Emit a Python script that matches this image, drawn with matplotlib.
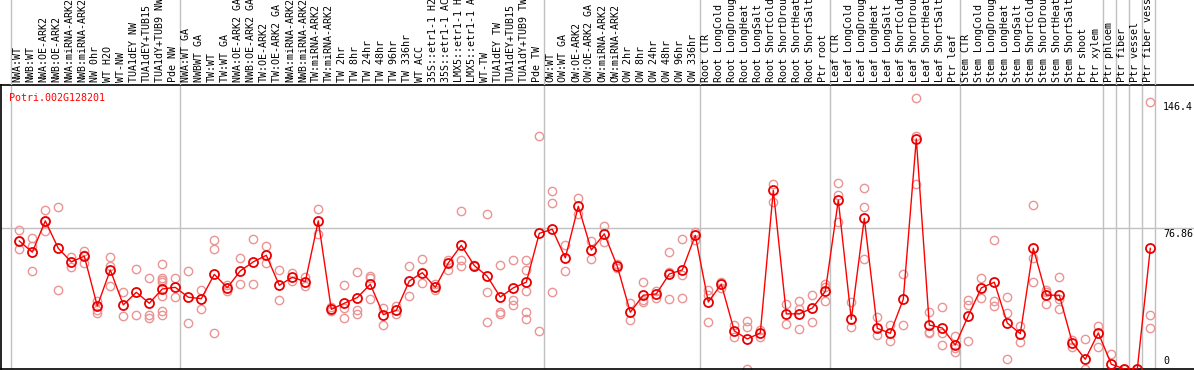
import matplotlib
matplotlib.use("Agg")
import matplotlib.pyplot as plt
import matplotlib.transforms as mtransforms

# sample names (truncated to 14 chars as in the chart)
g_nw = ["NWA:WT", "NWB:WT", "NWA:OE-ARK2", "NWB:OE-ARK2", "NWA:miRNA-ARK2", "NWB:miRNA-ARK2",
        "NW 0hr", "WT H2O", "WT-NW", "TUA1dEY NW", "TUA1dEY+TUB15", "TUA1dY+TUB9 NW", "Pde NW"]
g_tw = ["NWA:WT GA", "NWBWT GA", "TW:WT", "TW:WT GA", "NWA:OE-ARK2 GA", "NWB:OE-ARK2 GA",
        "TW:OE-ARK2", "TW:OE-ARK2 GA", "NWA:miRNA-ARK2", "NWB:miRNA-ARK2", "TW:miRNA-ARK2",
        "TW:miRNA-ARK2", "TW 2hr", "TW 8hr", "TW 24hr", "TW 48hr", "TW 96hr", "TW 336hr",
        "WT ACC", "35S::etr1-1 H2", "35S::etr1-1 AC", "LMX5::etr1-1 H", "LMX5::etr1-1 A",
        "WT-TW", "TUA1dEY TW", "TUA1dEY+TUB15", "TUA1dY+TUB9 TW", "Pde TW"]
g_ow = ["OW:WT", "OW:WT GA", "OW:OE-ARK2", "OW:OE-ARK2 GA", "OW:miRNA-ARK2", "OW:miRNA-ARK2",
        "OW 2hr", "OW 8hr", "OW 24hr", "OW 48hr", "OW 96hr", "OW 336hr"]
stress = ["CTR", "LongCold", "LongDroug", "LongHeat", "LongSalt",
          "ShortCold", "ShortDrou", "ShortHeat", "ShortSalt"]
g_root = ["Root " + s for s in stress] + ["Ptr root"]
g_leaf = ["Leaf " + s for s in stress] + ["Ptr leaf"]
g_stem = ["Stem " + s for s in stress] + ["Ptr shoot", "Ptr xylem"]
g_ptr = ["Ptr phloem", "Ptr fiber", "Ptr vessel", "Ptr fiber vess"]

groups = [g_nw, g_tw, g_ow, g_root, g_leaf, g_stem, g_ptr[:1], g_ptr[1:2], g_ptr[2:3], g_ptr[3:]]
labels = [n for g in groups for n in g]

# mean expression per sample
means = [69.9, 63.8, 80.9, 65.9, 58.5, 61.6, 34.4, 54.1, 35.0, 41.9, 35.9, 43.7, 44.6,
         39.2, 38.4, 51.7, 44.4, 53.6, 58.5, 62.1, 45.7, 50.1, 47.7, 80.9, 32.6, 35.9, 39.0,
         46.3, 29.7, 32.0, 48.1, 52.6, 44.6, 57.9, 67.6, 56.5, 50.6, 39.3, 44.3, 47.4, 74.1,
         76.3, 60.7, 88.9, 65.0, 73.8, 56.1, 31.0, 40.3, 41.0, 51.9, 54.1, 73.0,
         36.6, 46.3, 20.8, 16.4, 19.7, 97.6, 30.1, 30.1, 33.3, 42.4,
         92.2, 27.1, 82.3, 22.2, 19.5, 38.1, 125.7, 24.0, 22.4, 13.1,
         29.1, 44.3, 47.4, 25.1, 19.3, 65.9, 40.3, 40.3, 14.4, 5.3, 19.7,
         2.6, 0.0, 0.0, 65.9]

# individual replicates per sample
reps = [
    [75.8, 65.6, 69.9], [71.4, 67.2, 53.6], [86.7, 75.4, 80.9], [88.3, 43.2], [61.0, 55.7],
    [64.7, 57.7, 62.5], [37.2, 32.2, 30.8], [61.0, 56.5, 45.2], [41.9, 28.8], [54.5, 29.5],
    [49.5, 29.5, 27.7], [57.2, 49.9, 48.6, 47.4, 40.1, 31.7, 29.5], [49.5, 39.2],
    [53.6, 25.0], [43.2, 32.8], [70.3, 65.4, 19.5], [45.7, 42.8], [60.7, 46.3],
    [71.0, 46.3], [67.0, 57.7], [54.1, 37.7], [52.3, 48.3], [50.5, 45.5], [87.2, 74.0],
    [34.0, 31.5], [45.7, 33.5, 27.7], [53.0, 32.0, 30.2], [51.0, 49.9, 38.1], [33.5, 24.0],
    [34.6, 29.9], [56.1, 39.9], [60.1, 46.8], [46.4, 43.4], [59.7, 53.9],
    [86.3, 59.6, 56.5], [56.5, 57.0], [84.5, 41.9, 25.5], [56.6, 31.3, 29.9],
    [59.4, 37.7, 35.0], [59.4, 54.1, 42.6, 31.0, 27.1], [127.5, 20.6],
    [97.1, 90.5, 41.9], [67.6, 53.4], [93.3, 84.5], [69.8, 59.9], [78.1, 69.2],
    [57.4, 55.0], [35.9, 26.6], [47.4, 36.8, 37.5], [42.8, 38.6], [63.8, 53.2, 38.1],
    [70.9, 51.4, 38.6], [75.0, 70.5],
    [43.2, 40.4, 25.5], [47.7, 44.4], [24.0, 17.5], [26.2, 23.0, 0.0], [21.3, 17.3],
    [101.1, 91.4], [35.5, 24.6], [37.2, 21.7, 32.5], [40.4, 25.5], [46.4, 45.0, 37.0],
    [101.6, 95.1, 80.5], [36.8, 22.8], [98.7, 88.3, 60.1], [28.4, 18.6], [23.9, 15.1],
    [51.7, 24.0], [147.9, 127.0, 101.3], [31.0, 20.4, 19.5], [33.9, 19.5, 12.9],
    [18.2, 11.3, 9.1],
    [37.7, 35.0, 15.3], [49.5, 38.6], [70.5, 37.2, 34.6], [39.2, 30.8, 5.5], [23.7, 14.6],
    [89.4, 60.8, 47.4], [43.4, 42.3, 35.3], [50.1, 38.1, 32.6], [15.7, 12.2], [16.2, 0.0],
    [23.7, 12.2],
    [8.0], [0.0], [0.0], [145.7, 29.5, 22.2],
]

ytick_vals = [146.4, 76.86, 0]
gene = "Potri.002G128201"

W, H = 1194, 370
first_px, pitch = 19.3, 13.0
x_left = (1 - first_px) / pitch
x_right = (W - first_px) / pitch
grey = "#c0c0c0"
mono = "DejaVu Sans Mono"

fig = plt.figure(figsize=(W / 100, H / 100), dpi=100)
ax = fig.add_axes([1 / W, 1 / H, (W - 1) / W, 284 / H])
axl = fig.add_axes([1 / W, 285 / H, (W - 1) / W, 85 / H])

x = list(range(len(labels)))

# group separators
bounds = [0]
for g in groups:
    bounds.append(bounds[-1] + len(g))
for b in bounds:
    ax.axvline(b - 0.63, color=grey, lw=1, zorder=0)
    axl.axvline(b - 0.63, color=grey, lw=1, zorder=0)
ax.axhline(ytick_vals[1], color=grey, lw=1, zorder=0)

for i, r in enumerate(reps):
    ax.plot([i] * len(r), r, "o", ms=6, mfc="none", mec="#ec9494", mew=1, zorder=2)
ax.plot(x, means, "-", color="#ff0000", lw=1, zorder=3)
ax.plot(x, means, "o", ms=6.5, mfc="none", mec="#e80000", mew=1.3, zorder=4)

ax.set_xlim(x_left, x_right)
ax.set_ylim(0, 155.1)
ax.set_xticks([])
ax.set_yticks([])
ax.spines["right"].set_visible(False)
for s in ["left", "top", "bottom"]:
    ax.spines[s].set_linewidth(1.2)

ax.text(0.007, 0.972, gene, transform=ax.transAxes, color="#ff0000",
        fontsize=7.2, family=mono, va="top", ha="left")

tx = mtransforms.blended_transform_factory(ax.transAxes, ax.transData)
for v in ytick_vals:
    lab = ("%g" % v)
    if v == 0:
        tr = mtransforms.offset_copy(tx, fig=fig, y=3, units="dots")
        ax.text(0.974, v, lab, transform=tr, fontsize=7.2, family=mono, va="bottom", ha="left")
    else:
        tr = mtransforms.offset_copy(tx, fig=fig, y=-1, units="dots")
        ax.text(0.974, v, lab, transform=tr, fontsize=7.2, family=mono, va="top", ha="left")

# rotated sample labels on top
axl.set_xlim(x_left, x_right)
axl.set_ylim(0, 1)
axl.axis("off")
for i, name in enumerate(labels):
    axl.text(i - 0.18, 3 / 85, name, rotation=90, ha="center", va="bottom",
             fontsize=7.2, family=mono, clip_on=False)

fig.savefig("out.png", dpi=100)
